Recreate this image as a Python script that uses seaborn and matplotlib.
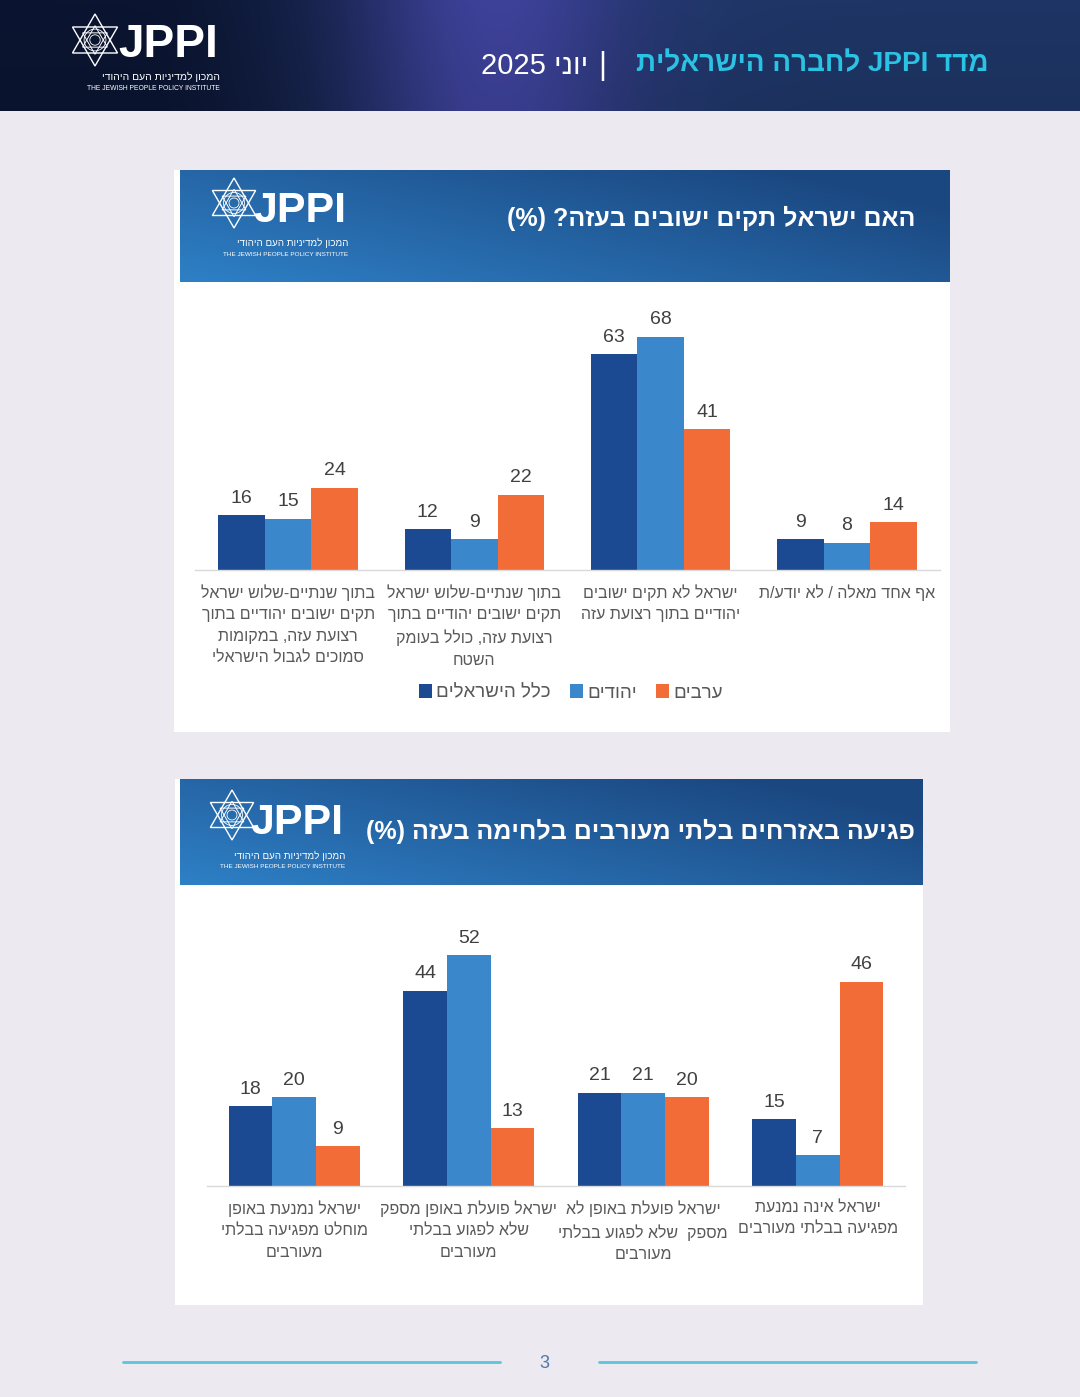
import re
import numpy as np
import pandas as pd
import matplotlib
matplotlib.use("Agg")
import matplotlib.pyplot as plt
import seaborn as sns
from matplotlib.patches import Rectangle, Polygon, Circle, Patch

sns.set_theme(style="white")
plt.rcParams["font.family"] = ["Liberation Sans", "DejaVu Sans"]

# ---------------- data ----------------
groups = ["כלל הישראלים", "יהודים", "ערבים"]
bar_colors = ["#1C4A92", "#3A87CC", "#F26C37"]

q1_title = "האם ישראל תקים ישובים בעזה? (%)"
q1_categories = [
    "בתוך שנתיים-שלוש ישראל\nתקים ישובים יהודיים בתוך\nרצועת עזה, במקומות\nסמוכים לגבול הישראלי",
    "בתוך שנתיים-שלוש ישראל\nתקים ישובים יהודיים בתוך\nרצועת עזה, כולל בעומק\nהשטח",
    "ישראל לא תקים ישובים\nיהודיים בתוך רצועת עזה",
    "אף אחד מאלה / לא יודע/ת",
]
q1_all = [16, 12, 63, 9]
q1_jews = [15, 9, 68, 8]
q1_arabs = [24, 22, 41, 14]

q2_title = "פגיעה באזרחים בלתי מעורבים בלחימה בעזה (%)"
q2_categories = [
    "ישראל נמנעת באופן\nמוחלט מפגיעה בבלתי\nמעורבים",
    "ישראל פועלת באופן מספק\nשלא לפגוע בבלתי\nמעורבים",
    "ישראל פועלת באופן לא\nמספק  שלא לפגוע בבלתי\nמעורבים",
    "ישראל אינה נמנעת\nמפגיעה בבלתי מעורבים",
]
q2_all = [18, 44, 21, 15]
q2_jews = [20, 52, 21, 7]
q2_arabs = [9, 13, 20, 46]

header_title = "מדד JPPI לחברה הישראלית"
header_date = "יוני 2025"
logo_he = "המכון למדיניות העם היהודי"
logo_en = "THE JEWISH PEOPLE POLICY INSTITUTE"
page_number = "3"

# ---------------- helpers ----------------
LTR_RE = re.compile(r"[A-Za-z0-9%][A-Za-z0-9%.]*(?: [A-Za-z0-9%][A-Za-z0-9%.]*)*")
MIRROR = str.maketrans("()", ")(")


def rtl_line(s):
    out, pos = [], 0
    for m in LTR_RE.finditer(s):
        out.append(s[pos:m.start()][::-1].translate(MIRROR))
        out.append(m.group())
        pos = m.end()
    out.append(s[pos:][::-1].translate(MIRROR))
    return "".join(reversed(out))


def rtl(s):
    return "\n".join(rtl_line(l) for l in s.split("\n"))


W, H = 1080, 1397
fig = plt.figure(figsize=(W / 100, H / 100), dpi=100)
fig.patch.set_facecolor("#ECEAF0")


def fig_rect(x0, y0, x1, y1):
    return [x0 / W, 1 - y1 / H, (x1 - x0) / W, (y1 - y0) / H]


bg = fig.add_axes([0, 0, 1, 1], zorder=0)
bg.set_xlim(0, W)
bg.set_ylim(H, 0)
bg.axis("off")


def hex2rgb(h):
    h = h.lstrip("#")
    return np.array([int(h[i:i + 2], 16) / 255 for i in (0, 2, 4)])


# top header band gradient
bw, bh = 540, 55
xs = np.linspace(0, 1, bw)[None, :, None]
ys = np.linspace(0, 1, bh)[:, None, None]
left_c = hex2rgb("#0B1531")
right_c = hex2rgb("#1E3565")
glow_c = hex2rgb("#4546A6")
base = left_c + (right_c - left_c) * np.clip((xs - 0.15) / 0.5, 0, 1)
glow = np.exp(-((xs - 0.46) / 0.13) ** 2)
band = base * (1 - glow * 0.85) + glow_c * glow * 0.85
band = band * (1 - 0.08 * ys)
band = np.clip(np.broadcast_to(band, (bh, bw, 3)), 0, 1)
bg.imshow(band, extent=(0, W, 111, 0), aspect="auto", zorder=1)

# cards
bg.add_patch(Rectangle((174, 170), 776, 562, fc="white", ec="none", zorder=1))
bg.add_patch(Rectangle((175, 779), 748, 526, fc="white", ec="none", zorder=1))


def card_header(x0, x1, y0, y1):
    cw, ch = 300, 60
    xn = np.linspace(0, 1, cw)[None, :, None]
    yn = np.linspace(0, 1, ch)[:, None, None]
    t = np.clip(0.7 * xn + 0.45 * (1 - yn), 0, 1)
    light = hex2rgb("#2E80C6")
    dark = hex2rgb("#1B4780")
    img = light + (dark - light) * t
    img = np.clip(np.broadcast_to(img, (ch, cw, 3)), 0, 1)
    bg.imshow(img, extent=(x0, x1, y1, y0), aspect="auto", zorder=2)


card_header(180, 950, 170, 282)
card_header(180, 923, 779, 885)


def draw_logo(cx, cy, r, jx, jy, jsize, right_x, he_y, en_y, he_size, en_size):
    for rr, lw in ((r, 1.0), (r * 0.55, 0.7)):
        up = [(cx + rr * np.cos(np.radians(a)), cy - rr * np.sin(np.radians(a))) for a in (90, 210, 330)]
        dn = [(cx + rr * np.cos(np.radians(a)), cy - rr * np.sin(np.radians(a))) for a in (270, 30, 150)]
        bg.add_patch(Polygon(up, closed=True, fill=False, ec="white", lw=lw, zorder=5))
        bg.add_patch(Polygon(dn, closed=True, fill=False, ec="white", lw=lw, zorder=5))
    bg.add_patch(Circle((cx, cy), r * 0.42, fill=False, ec="white", lw=0.6, zorder=5))
    bg.add_patch(Circle((cx, cy), r * 0.2, fill=False, ec="white", lw=0.6, zorder=5))
    bg.text(jx, jy, "JPPI", color="white", fontsize=jsize, fontweight="bold",
            ha="left", va="center", zorder=6)
    bg.text(right_x, he_y, rtl(logo_he), color="white", fontsize=he_size,
            ha="right", va="center", zorder=6)
    bg.text(right_x, en_y, logo_en, color="white", fontsize=en_size,
            ha="right", va="center", zorder=6)


draw_logo(95, 40, 26, 118, 45, 33, 220, 77, 89, 7.5, 4.9)
draw_logo(234, 203, 25, 253, 211, 31, 348, 243, 254, 7.0, 4.6)
draw_logo(232, 815, 25, 250, 823, 31, 345, 856, 867, 7.0, 4.6)

# page header title
bg.text(988, 64, rtl(header_title), color="#2BC3E3", fontsize=20, fontweight="bold",
        ha="right", va="center", zorder=6)
bg.text(602, 66, "|", color="white", fontsize=22, ha="center", va="center", zorder=6)
bg.text(588, 66, rtl(header_date), color="white", fontsize=21, ha="right", va="center", zorder=6)

# card titles
bg.text(915, 218, rtl(q1_title), color="white", fontsize=18, fontweight="bold",
        ha="right", va="center", zorder=6)
bg.text(915, 831, rtl(q2_title), color="white", fontsize=18, fontweight="bold",
        ha="right", va="center", zorder=6)

# footer
bg.plot([123, 500], [1362, 1362], color="#5BC6D7", lw=2, zorder=3)
bg.plot([599, 976], [1362, 1362], color="#5BC6D7", lw=2, zorder=3)
bg.text(544, 1364, page_number, color="#4A78B0", fontsize=13, ha="center", va="center", zorder=6)


# ---------------- charts ----------------
def make_df(categories, a, j, ar):
    rows = []
    for ser, vals in zip(groups, (a, j, ar)):
        for c, v in zip(categories, vals):
            rows.append({"category": c, "group": ser, "value": v})
    return pd.DataFrame(rows)


def draw_chart(rect, categories, a, j, ar, ymax):
    ax = fig.add_axes(fig_rect(*rect), zorder=3)
    ax.set_facecolor("none")
    df = make_df(categories, a, j, ar)
    sns.barplot(data=df, x="category", y="value", hue="group", order=categories,
                hue_order=groups, palette=bar_colors, width=0.75, saturation=1,
                errorbar=None, edgecolor="none", linewidth=0, legend=False, ax=ax)
    for cont in ax.containers:
        ax.bar_label(cont, padding=6, fontsize=14, color="#404040")
    ax.set_ylim(0, ymax)
    ax.set_xlim(-0.5, len(categories) - 0.5)
    ax.set_xlabel("")
    ax.set_ylabel("")
    ax.set_yticks([])
    ax.set_xticks(range(len(categories)))
    ax.set_xticklabels([rtl(c) for c in categories], fontsize=11.5, color="#595959",
                       linespacing=1.55, ha="center", va="top")
    ax.tick_params(axis="x", length=0, pad=10)
    for s in ("top", "left", "right"):
        ax.spines[s].set_visible(False)
    ax.spines["bottom"].set_color("#D9D9D9")
    ax.spines["bottom"].set_linewidth(1)
    return ax


ax1 = draw_chart((195, 300, 940, 570), q1_categories, q1_all, q1_jews, q1_arabs, 270 / 3.43)
ax2 = draw_chart((207, 930, 905, 1186), q2_categories, q2_all, q2_jews, q2_arabs, 256 / 4.44)

handles = [Patch(facecolor=c, edgecolor="none") for c in bar_colors]
fig.legend(handles, [rtl(g) for g in groups], loc="center",
           bbox_to_anchor=(571 / W, 1 - 693 / H), ncol=3, frameon=False,
           fontsize=13.5, handlelength=0.7, handleheight=0.7, handletextpad=0.25,
           columnspacing=1.0, labelcolor="#595959")

fig.savefig("out.png", dpi=100, facecolor=fig.get_facecolor())
